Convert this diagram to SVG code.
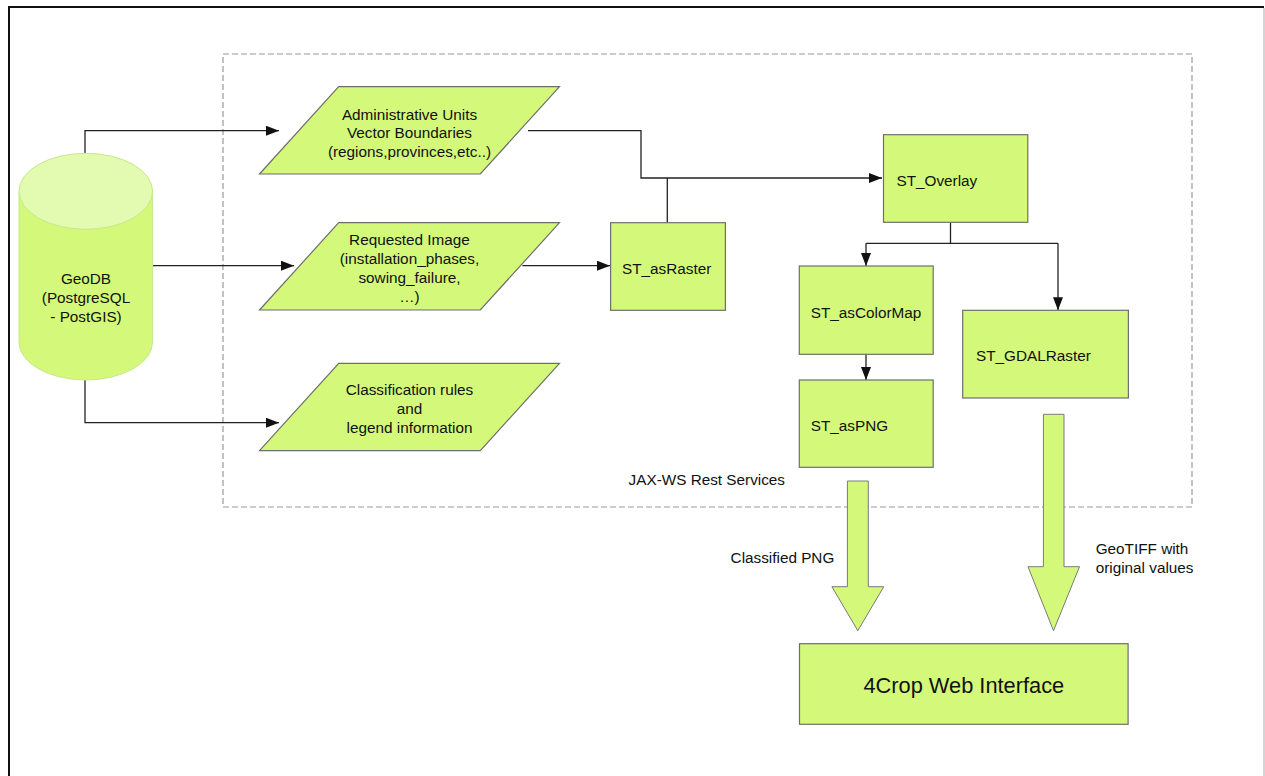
<svg xmlns="http://www.w3.org/2000/svg" width="1265" height="776" viewBox="0 0 1265 776">
<style>
text{font-family:"Liberation Sans",Arial,sans-serif;font-size:15.3px;fill:#111}
.box{fill:#d4f97a;stroke:#6e6e6e;stroke-width:1.2}
.con{fill:none;stroke:#222;stroke-width:1.3}
.big{fill:#d4f97a;stroke:#7a7a7a;stroke-width:1}
</style>
<defs>
<marker id="ah" markerUnits="userSpaceOnUse" markerWidth="14" markerHeight="11" refX="13" refY="5" orient="auto">
<path d="M0,0 L13,5 L0,10 Z" fill="#111"/>
</marker>
</defs>
<rect width="1265" height="776" fill="#fff"/>
<g id="frame">
<line x1="9" y1="7" x2="1264" y2="7" stroke="#111" stroke-width="2"/>
<line x1="9" y1="6" x2="9" y2="776" stroke="#111" stroke-width="2"/>
<line x1="1264" y1="8" x2="1264" y2="776" stroke="#aaa" stroke-width="1"/>
</g>
<g id="services">
<rect x="223" y="54" width="969" height="453" fill="none" stroke="#999" stroke-width="1.2" stroke-dasharray="6,3"/>
<text x="628.6" y="485">JAX-WS Rest Services</text>
</g>
<g id="connectors">
<path class="con" d="M85,153 V130.7 H279" marker-end="url(#ah)"/>
<path class="con" d="M152.6,265.7 H294" marker-end="url(#ah)"/>
<path class="con" d="M85,380 V422.7 H279" marker-end="url(#ah)"/>
<path class="con" d="M528,130.7 H641 V178 H882" marker-end="url(#ah)"/>
<path class="con" d="M667.3,222.7 V178"/>
<path class="con" d="M522.4,265.7 H610" marker-end="url(#ah)"/>
<path class="con" d="M950.5,222.3 V243.3"/>
<path class="con" d="M866,243.3 H1058"/>
<path class="con" d="M866,243.3 V266" marker-end="url(#ah)"/>
<path class="con" d="M1058,243.3 V310.3" marker-end="url(#ah)"/>
<path class="con" d="M866,354.3 V380" marker-end="url(#ah)"/>
</g>
<g id="geodb">
<path d="M19,191.3 V342 A66.8,38 0 0 0 152.6,342 V191.3 Z" fill="#d4f97a" stroke="#c6e88a" stroke-width="1"/>
<ellipse cx="85.8" cy="191.3" rx="66.8" ry="38" fill="#e2fbb0" stroke="#c6e88a" stroke-width="1"/>
<text text-anchor="middle" x="86" y="284">GeoDB</text>
<text text-anchor="middle" x="86" y="303">(PostgreSQL</text>
<text text-anchor="middle" x="86" y="322">- PostGIS)</text>
</g>
<g id="admin-units">
<polygon class="box" points="338.7,86.7 559.5,86.7 480.3,174 259.5,174"/>
<text text-anchor="middle" x="409.5" y="119.5">Administrative Units</text>
<text text-anchor="middle" x="409.5" y="138">Vector Boundaries</text>
<text text-anchor="middle" x="409.5" y="157">(regions,provinces,etc..)</text>
</g>
<g id="requested-image">
<polygon class="box" points="338.7,222.7 559.5,222.7 480.3,310 259.5,310"/>
<text text-anchor="middle" x="409.5" y="245">Requested Image</text>
<text text-anchor="middle" x="409.5" y="264">(installation_phases,</text>
<text text-anchor="middle" x="409.5" y="283">sowing_failure,</text>
<text text-anchor="middle" x="409.5" y="302">…)</text>
</g>
<g id="classification">
<polygon class="box" points="338.7,363.3 559.5,363.3 480.3,450.7 259.5,450.7"/>
<text text-anchor="middle" x="409.5" y="395">Classification rules</text>
<text text-anchor="middle" x="409.5" y="414">and</text>
<text text-anchor="middle" x="409.5" y="432.5">legend information</text>
</g>
<g id="st-asraster">
<rect class="box" x="610.6" y="222.7" width="114.8" height="87.6"/>
<text x="622" y="273.5">ST_asRaster</text>
</g>
<g id="st-overlay">
<rect class="box" x="883.5" y="134.7" width="144.3" height="87.6"/>
<text x="896.5" y="186">ST_Overlay</text>
</g>
<g id="st-ascolormap">
<rect class="box" x="799.3" y="266" width="133.9" height="88.3"/>
<text x="810.8" y="317.5">ST_asColorMap</text>
</g>
<g id="st-aspng">
<rect class="box" x="799.3" y="380" width="133.9" height="87.3"/>
<text x="810.8" y="430.5">ST_asPNG</text>
</g>
<g id="st-gdalraster">
<rect class="box" x="962.7" y="310.3" width="165.7" height="87.7"/>
<text x="976" y="361">ST_GDALRaster</text>
</g>
<g id="png-flow">
<polygon class="big" points="847.4,481 868.3,481 868.3,586.7 883.8,586.7 857.8,630.7 831.9,586.7 847.4,586.7"/>
<text x="730.6" y="562.5">Classified PNG</text>
</g>
<g id="geotiff-flow">
<polygon class="big" points="1043.4,414.3 1064,414.3 1064,566.7 1079.5,566.7 1053.5,630.7 1028,566.7 1043.4,566.7"/>
<text x="1095.7" y="553.5">GeoTIFF with</text>
<text x="1095.7" y="572.5">original values</text>
</g>
<g id="web-interface">
<rect class="box" x="799.5" y="643.7" width="328.6" height="80.6"/>
<text text-anchor="middle" x="963.8" y="692.5" style="font-size:21.8px">4Crop Web Interface</text>
</g>
</svg>
